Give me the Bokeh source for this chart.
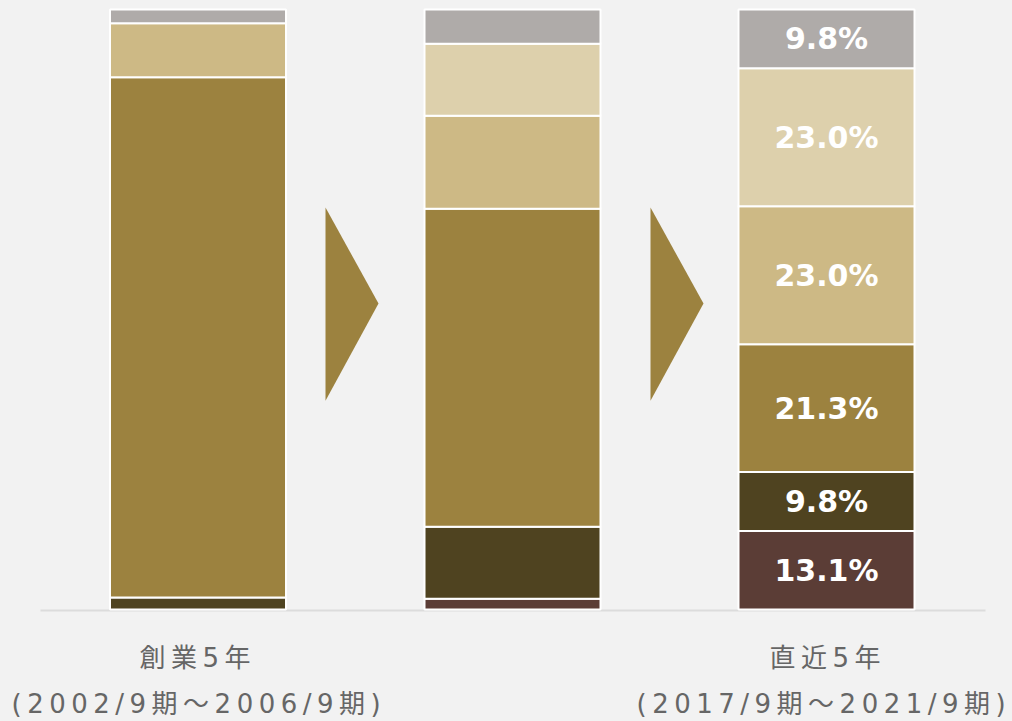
from bokeh.plotting import figure
from bokeh.models import Range1d, ColumnDataSource
from bokeh.layouts import column
from bokeh.embed import file_html
from bokeh.resources import INLINE
from bokeh.core.properties import value

# ---- data (percent share, bottom -> top) ----
periods = ["創業5年", "", "直近5年"]
period_ranges = ["(2002/9期～2006/9期)", "", "(2017/9期～2021/9期)"]
seg_brown = [0.0, 1.8, 13.1]
seg_dark = [2.0, 12.0, 9.8]
seg_olive = [86.7, 53.0, 21.3]
seg_tan = [9.0, 15.5, 23.0]
seg_light = [0.0, 12.0, 23.0]
seg_grey = [2.3, 5.7, 9.8]
labelled_bar = 2

segments = [seg_brown, seg_dark, seg_olive, seg_tan, seg_light, seg_grey]
colors = ["#5b3d36", "#4f4320", "#9c823f", "#cdb985", "#ddd0ac", "#afaba9"]
BG = "#f2f2f2"

# ---- layout ----
bar_x = [197.5, 512, 826]
bar_w = 176

xs, bottoms, tops, cols = [], [], [], []
lx, ly, lt = [], [], []
for i, bx in enumerate(bar_x):
    acc = 0.0
    for seg, c in zip(segments, colors):
        v = seg[i]
        if v <= 0:
            continue
        xs.append(bx); bottoms.append(acc); tops.append(acc + v); cols.append(c)
        if i == labelled_bar:
            lx.append(bx); ly.append(acc + v / 2); lt.append(f"{v:.1f}%")
        acc += v


def base_fig(**kw):
    f = figure(output_backend="svg", toolbar_location=None, min_border=0, **kw)
    f.background_fill_color = BG
    f.border_fill_color = BG
    f.outline_line_color = None
    f.xaxis.visible = False
    f.yaxis.visible = False
    f.xgrid.grid_line_color = None
    f.ygrid.grid_line_color = None
    return f


# top: bars
p = base_fig(width=1012, height=620, x_range=Range1d(0, 1012),
             y_range=Range1d(-1.8333, 101.5))

p.line(x=[40, 985], y=[-0.15, -0.15], line_color="#dcdcdc", line_width=2)

src = ColumnDataSource(dict(x=xs, bottom=bottoms, top=tops, color=cols))
p.vbar(x="x", bottom="bottom", top="top", width=bar_w, fill_color="color",
       line_color="white", line_width=2, source=src)

for ax0 in [325, 650]:
    p.patch(x=[ax0, ax0 + 53, ax0], y=[67.0, 51.0, 34.8], fill_color="#9c823f",
            line_color=None)

lsrc = ColumnDataSource(dict(x=lx, y=ly, t=lt))
p.text(x="x", y="y", text="t", source=lsrc, text_color="white",
       text_font=value("DejaVu Sans"), text_font_style="bold",
       text_font_size="30px", text_align="center", text_baseline="middle")

# bottom: category labels (letter-spaced)
q = base_fig(width=1012, height=101, x_range=Range1d(0, 1012),
             y_range=Range1d(721, 620), styles={"letter-spacing": "5.5px"})
lab_font = value("DejaVu Sans, Noto Sans CJK JP")
l1_x = [139, 0, 769]
l2_x = [11, 0, 636]
for i in range(3):
    if periods[i]:
        q.text(x=[l1_x[i]], y=[657], text=[periods[i]], text_color="#666666",
               text_font=lab_font, text_font_size="26px",
               text_align="left", text_baseline="alphabetic")
    if period_ranges[i]:
        q.text(x=[l2_x[i]], y=[703], text=[period_ranges[i]], text_color="#666666",
               text_font=lab_font, text_font_size="26px",
               text_align="left", text_baseline="alphabetic")

page = column(p, q, spacing=0,
              styles={"position": "absolute", "left": "0px", "top": "0px",
                      "background-color": BG})

open("out.html", "w").write(file_html(page, INLINE))
